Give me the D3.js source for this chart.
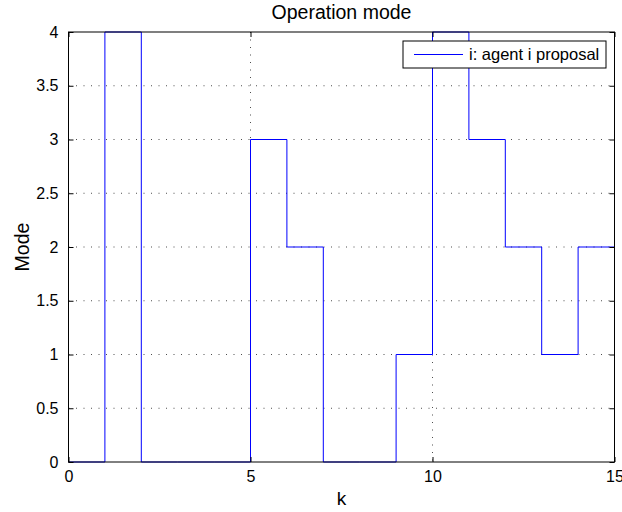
<!DOCTYPE html>
<html>
<head>
<meta charset="utf-8">
<script src="https://cdn.jsdelivr.net/npm/d3@7"></script>
<style>
  body { margin: 0; background: #fff; }
  text { font-family: "Liberation Sans", Arial, sans-serif; }
</style>
</head>
<body>
<svg id="chart"></svg>
<script>
// data
const kValues = [0, 1, 2, 3, 4, 5, 6, 7, 8, 9, 10, 11, 12, 13, 14, 15];
const modeValues = [0, 4, 0, 0, 0, 3, 2, 0, 0, 1, 4, 3, 2, 1, 2, 3];
const xTicks = [0, 5, 10, 15];
const yTicks = [0, 0.5, 1, 1.5, 2, 2.5, 3, 3.5, 4];
const legendLabel = "i: agent i proposal";

const width = 622;
const height = 512;
const margin = { top: 32, right: 7.5, bottom: 50, left: 68.5 };
const innerWidth = width - margin.left - margin.right;
const innerHeight = height - margin.top - margin.bottom;

const svg = d3.select("#chart")
    .attr("width", width)
    .attr("height", height);

const g = svg.append("g")
    .attr("transform", `translate(${margin.left}, ${margin.top})`);

const x = d3.scaleLinear().domain([0, 15]).range([0, innerWidth]);
const y = d3.scaleLinear().domain([0, 4]).range([innerHeight, 0]);

// grid (dotted)
g.append("g")
    .selectAll("line")
    .data(xTicks.slice(1, -1))
    .join("line")
    .attr("x1", d => x(d)).attr("x2", d => x(d))
    .attr("y1", 0).attr("y2", innerHeight)
    .attr("stroke", "#000")
    .attr("stroke-width", 0.7)
    .attr("stroke-dasharray", "1,6.5");

g.append("g")
    .selectAll("line")
    .data(yTicks.slice(1, -1))
    .join("line")
    .attr("x1", 0).attr("x2", innerWidth)
    .attr("y1", d => y(d)).attr("y2", d => y(d))
    .attr("stroke", "#000")
    .attr("stroke-width", 0.7)
    .attr("stroke-dasharray", "1,6.5");

// stairs line
const stairs = d3.line()
    .x(d => x(d[0]))
    .y(d => y(d[1]))
    .curve(d3.curveStepAfter);

g.append("path")
    .datum(kValues.map((k, i) => [k, modeValues[i]]))
    .attr("d", stairs)
    .attr("fill", "none")
    .attr("stroke", "#0000ff")
    .attr("stroke-width", 1);

// axes (ticks inward, box on)
const tickLen = 5;
const xAxis = d3.axisBottom(x).tickValues(xTicks).tickSize(-tickLen).tickPadding(tickLen + 4).tickFormat(d3.format("d"));
const yAxis = d3.axisLeft(y).tickValues(yTicks).tickSize(-tickLen).tickPadding(tickLen + 5).tickFormat(d => d);

const gx = g.append("g").attr("transform", `translate(0, ${innerHeight})`).call(xAxis);
const gy = g.append("g").call(yAxis);

const gTop = g.append("g").call(d3.axisTop(x).tickValues(xTicks).tickSize(-tickLen));
const gRight = g.append("g").attr("transform", `translate(${innerWidth}, 0)`)
    .call(d3.axisRight(y).tickValues(yTicks).tickSize(-tickLen));
gTop.selectAll("text").remove();
gRight.selectAll("text").remove();

g.selectAll(".domain").remove();
g.selectAll(".tick line").attr("stroke", "#000");
[gx, gy].forEach(a => a.selectAll("text")
    .attr("fill", "#000")
    .style("font-size", "16px")
    .style("font-family", "'Liberation Sans', Arial, sans-serif"));

g.append("rect")
    .attr("width", innerWidth)
    .attr("height", innerHeight)
    .attr("fill", "none")
    .attr("stroke", "#000")
    .attr("stroke-width", 1);

// title and labels
svg.append("text")
    .attr("x", margin.left + innerWidth / 2)
    .attr("y", 19)
    .attr("text-anchor", "middle")
    .style("font-size", "19.5px")
    .text("Operation mode");

svg.append("text")
    .attr("x", margin.left + innerWidth / 2)
    .attr("y", 505)
    .attr("text-anchor", "middle")
    .style("font-size", "19px")
    .text("k");

svg.append("text")
    .attr("transform", `translate(29, ${margin.top + innerHeight / 2}) rotate(-90)`)
    .attr("text-anchor", "middle")
    .style("font-size", "19.5px")
    .text("Mode");

// legend
const legend = svg.append("g").attr("transform", "translate(403, 41)");
legend.append("rect")
    .attr("width", 203)
    .attr("height", 27)
    .attr("fill", "#fff")
    .attr("stroke", "#000");
legend.append("line")
    .attr("x1", 11).attr("x2", 60)
    .attr("y1", 13.5).attr("y2", 13.5)
    .attr("stroke", "#0000ff");
legend.append("text")
    .attr("x", 66)
    .attr("y", 19)
    .style("font-size", "16.5px")
    .text(legendLabel);
</script>
</body>
</html>
